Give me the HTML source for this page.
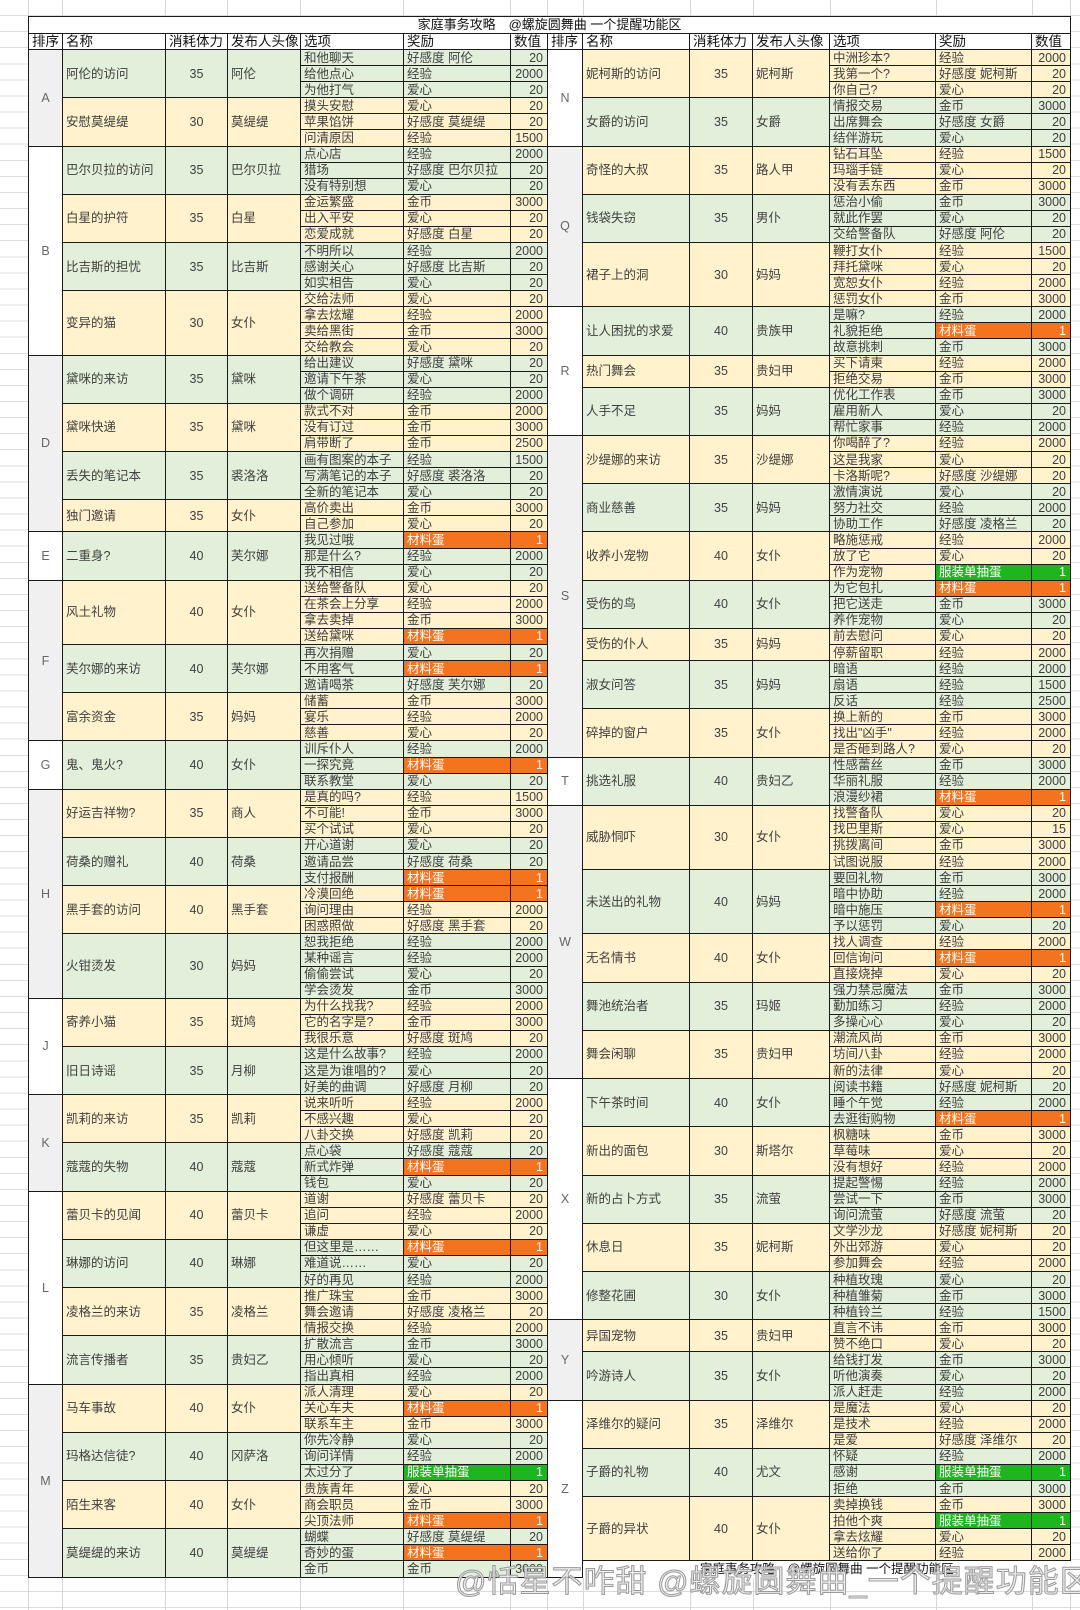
<!DOCTYPE html>
<html><head><meta charset="utf-8">
<style>
html,body{margin:0;padding:0;background:#fff;width:1080px;height:1610px;overflow:hidden;position:relative}
.bg{position:absolute;left:0;top:0;width:1080px;height:1610px;background:repeating-linear-gradient(to bottom,transparent 0,transparent 15.08px,#dcdcdc 15.08px,#dcdcdc 16.08px)}
.vl{position:absolute;top:0;height:1610px;width:1px;background:#d6d6d6}
table{position:absolute;left:28px;top:16px;border-collapse:collapse;table-layout:fixed;width:1042px;font-family:"Liberation Sans","Noto Sans CJK SC",sans-serif;font-size:12.5px;color:#404040;background:#fff}
td{border:1px solid #1a1a1a;padding:0 3px;line-height:14px;white-space:nowrap;overflow:hidden}
tr{height:16.08px}
.v{text-align:right;padding-right:4px}
.k{text-align:center}
.s{text-align:center;color:#666}
.sg{background:#f0f0f0}.sw{background:#fff}
.G{background:#e2efda}.C{background:#fff2cc}
.O{background:#f4731f;color:#fff}.E{background:#1fb51f;color:#fff}
.h td{color:#111;font-size:13.5px;background:#fff}
.ti td{text-align:center;color:#111;font-size:13px;border-bottom:1px solid #1a1a1a}
.ft{background:#fff;border:none;border-top:1px solid #1a1a1a;text-align:center;color:#111}
.wm{position:absolute;left:455px;top:1556px;font-family:"Liberation Sans","Noto Sans CJK SC",sans-serif;font-size:31px;color:rgba(235,235,235,0.85);-webkit-text-stroke:1px #9a9a9a;white-space:nowrap;letter-spacing:1px}
</style></head><body>
<div class="bg"></div>
<div class="vl" style="left:28px"></div><div class="vl" style="left:62px"></div><div class="vl" style="left:165px"></div><div class="vl" style="left:227px"></div><div class="vl" style="left:300px"></div><div class="vl" style="left:403px"></div><div class="vl" style="left:510px"></div><div class="vl" style="left:547px"></div><div class="vl" style="left:583px"></div><div class="vl" style="left:690px"></div><div class="vl" style="left:753px"></div><div class="vl" style="left:830px"></div><div class="vl" style="left:936px"></div><div class="vl" style="left:1032px"></div><div class="vl" style="left:1070px"></div>
<table>
<colgroup><col style="width:34px"><col style="width:103px"><col style="width:62px"><col style="width:73px"><col style="width:103px"><col style="width:107px"><col style="width:37px"><col style="width:35px"><col style="width:107px"><col style="width:63px"><col style="width:77px"><col style="width:106px"><col style="width:96px"><col style="width:39px"></colgroup>
<tr class="ti" style="height:17px"><td colspan="14">家庭事务攻略　@螺旋圆舞曲 一个提醒功能区</td></tr>
<tr class="h"><td>排序</td><td>名称</td><td>消耗体力</td><td>发布人头像</td><td>选项</td><td>奖励</td><td>数值</td><td>排序</td><td>名称</td><td>消耗体力</td><td>发布人头像</td><td>选项</td><td>奖励</td><td>数值</td></tr>

<tr><td class="s sg" rowspan="6">A<td class="G" rowspan="3">阿伦的访问<td class="k G" rowspan="3">35<td class="G" rowspan="3">阿伦<td class=G>和他聊天<td class=G>好感度 阿伦<td class="G v">20<td class="s sw" rowspan="6">N<td class="C" rowspan="3">妮柯斯的访问<td class="k C" rowspan="3">35<td class="C" rowspan="3">妮柯斯<td class=C>中洲珍本?<td class=C>经验<td class="C v">2000</tr>
<tr><td class=G>给他点心<td class=G>经验<td class="G v">2000<td class=C>我第一个?<td class=C>好感度 妮柯斯<td class="C v">20</tr>
<tr><td class=G>为他打气<td class=G>爱心<td class="G v">20<td class=C>你自己?<td class=C>爱心<td class="C v">20</tr>
<tr><td class="C" rowspan="3">安慰莫缇缇<td class="k C" rowspan="3">30<td class="C" rowspan="3">莫缇缇<td class=C>摸头安慰<td class=C>爱心<td class="C v">20<td class="G" rowspan="3">女爵的访问<td class="k G" rowspan="3">35<td class="G" rowspan="3">女爵<td class=G>情报交易<td class=G>金币<td class="G v">3000</tr>
<tr><td class=C>苹果馅饼<td class=C>好感度 莫缇缇<td class="C v">20<td class=G>出席舞会<td class=G>好感度 女爵<td class="G v">20</tr>
<tr><td class=C>问清原因<td class=C>经验<td class="C v">1500<td class=G>结伴游玩<td class=G>爱心<td class="G v">20</tr>

<tr><td class="s sw" rowspan="13">B<td class="G" rowspan="3">巴尔贝拉的访问<td class="k G" rowspan="3">35<td class="G" rowspan="3">巴尔贝拉<td class=G>点心店<td class=G>经验<td class="G v">2000<td class="s sg" rowspan="10">Q<td class="C" rowspan="3">奇怪的大叔<td class="k C" rowspan="3">35<td class="C" rowspan="3">路人甲<td class=C>钻石耳坠<td class=C>经验<td class="C v">1500</tr>
<tr><td class=G>猎场<td class=G>好感度 巴尔贝拉<td class="G v">20<td class=C>玛瑙手链<td class=C>爱心<td class="C v">20</tr>
<tr><td class=G>没有特别想<td class=G>爱心<td class="G v">20<td class=C>没有丢东西<td class=C>金币<td class="C v">3000</tr>
<tr><td class="C" rowspan="3">白星的护符<td class="k C" rowspan="3">35<td class="C" rowspan="3">白星<td class=C>金运繁盛<td class=C>金币<td class="C v">3000<td class="G" rowspan="3">钱袋失窃<td class="k G" rowspan="3">35<td class="G" rowspan="3">男仆<td class=G>惩治小偷<td class=G>金币<td class="G v">3000</tr>
<tr><td class=C>出入平安<td class=C>爱心<td class="C v">20<td class=G>就此作罢<td class=G>爱心<td class="G v">20</tr>
<tr><td class=C>恋爱成就<td class=C>好感度 白星<td class="C v">20<td class=G>交给警备队<td class=G>好感度 阿伦<td class="G v">20</tr>
<tr><td class="G" rowspan="3">比吉斯的担忧<td class="k G" rowspan="3">35<td class="G" rowspan="3">比吉斯<td class=G>不明所以<td class=G>经验<td class="G v">2000<td class="C" rowspan="4">裙子上的洞<td class="k C" rowspan="4">30<td class="C" rowspan="4">妈妈<td class=C>鞭打女仆<td class=C>经验<td class="C v">1500</tr>
<tr><td class=G>感谢关心<td class=G>好感度 比吉斯<td class="G v">20<td class=C>拜托黛咪<td class=C>爱心<td class="C v">20</tr>
<tr><td class=G>如实相告<td class=G>爱心<td class="G v">20<td class=C>宽恕女仆<td class=C>经验<td class="C v">2000</tr>
<tr><td class="C" rowspan="4">变异的猫<td class="k C" rowspan="4">30<td class="C" rowspan="4">女仆<td class=C>交给法师<td class=C>爱心<td class="C v">20<td class=C>惩罚女仆<td class=C>金币<td class="C v">3000</tr>
<tr><td class=C>拿去炫耀<td class=C>经验<td class="C v">2000<td class="s sw" rowspan="8">R<td class="G" rowspan="3">让人困扰的求爱<td class="k G" rowspan="3">40<td class="G" rowspan="3">贵族甲<td class=G>是嘛?<td class=G>经验<td class="G v">2000</tr>
<tr><td class=C>卖给黑街<td class=C>金币<td class="C v">3000<td class=G>礼貌拒绝<td class=O>材料蛋<td class="O v">1</tr>
<tr><td class=C>交给教会<td class=C>爱心<td class="C v">20<td class=G>故意挑刺<td class=G>金币<td class="G v">3000</tr>

<tr><td class="s sg" rowspan="11">D<td class="G" rowspan="3">黛咪的来访<td class="k G" rowspan="3">35<td class="G" rowspan="3">黛咪<td class=G>给出建议<td class=G>好感度 黛咪<td class="G v">20<td class="C" rowspan="2">热门舞会<td class="k C" rowspan="2">35<td class="C" rowspan="2">贵妇甲<td class=C>买下请柬<td class=C>经验<td class="C v">2000</tr>
<tr><td class=G>邀请下午茶<td class=G>爱心<td class="G v">20<td class=C>拒绝交易<td class=C>金币<td class="C v">3000</tr>
<tr><td class=G>做个调研<td class=G>经验<td class="G v">2000<td class="G" rowspan="3">人手不足<td class="k G" rowspan="3">35<td class="G" rowspan="3">妈妈<td class=G>优化工作表<td class=G>金币<td class="G v">3000</tr>
<tr><td class="C" rowspan="3">黛咪快递<td class="k C" rowspan="3">35<td class="C" rowspan="3">黛咪<td class=C>款式不对<td class=C>金币<td class="C v">2000<td class=G>雇用新人<td class=G>爱心<td class="G v">20</tr>
<tr><td class=C>没有订过<td class=C>金币<td class="C v">3000<td class=G>帮忙家事<td class=G>经验<td class="G v">2000</tr>
<tr><td class=C>肩带断了<td class=C>金币<td class="C v">2500<td class="s sg" rowspan="20">S<td class="C" rowspan="3">沙缇娜的来访<td class="k C" rowspan="3">35<td class="C" rowspan="3">沙缇娜<td class=C>你喝醉了?<td class=C>经验<td class="C v">2000</tr>
<tr><td class="G" rowspan="3">丢失的笔记本<td class="k G" rowspan="3">35<td class="G" rowspan="3">裘洛洛<td class=G>画有图案的本子<td class=G>经验<td class="G v">1500<td class=C>这是我家<td class=C>爱心<td class="C v">20</tr>
<tr><td class=G>写满笔记的本子<td class=G>好感度 裘洛洛<td class="G v">20<td class=C>卡洛斯呢?<td class=C>好感度 沙缇娜<td class="C v">20</tr>
<tr><td class=G>全新的笔记本<td class=G>爱心<td class="G v">20<td class="G" rowspan="3">商业慈善<td class="k G" rowspan="3">35<td class="G" rowspan="3">妈妈<td class=G>激情演说<td class=G>爱心<td class="G v">20</tr>
<tr><td class="C" rowspan="2">独门邀请<td class="k C" rowspan="2">35<td class="C" rowspan="2">女仆<td class=C>高价卖出<td class=C>金币<td class="C v">3000<td class=G>努力社交<td class=G>经验<td class="G v">2000</tr>
<tr><td class=C>自己参加<td class=C>爱心<td class="C v">20<td class=G>协助工作<td class=G>好感度 凌格兰<td class="G v">20</tr>

<tr><td class="s sw" rowspan="3">E<td class="G" rowspan="3">二重身?<td class="k G" rowspan="3">40<td class="G" rowspan="3">芙尔娜<td class=G>我见过哦<td class=O>材料蛋<td class="O v">1<td class="C" rowspan="3">收养小宠物<td class="k C" rowspan="3">40<td class="C" rowspan="3">女仆<td class=C>略施惩戒<td class=C>经验<td class="C v">2000</tr>
<tr><td class=G>那是什么?<td class=G>经验<td class="G v">2000<td class=C>放了它<td class=C>爱心<td class="C v">20</tr>
<tr><td class=G>我不相信<td class=G>爱心<td class="G v">20<td class=C>作为宠物<td class=E>服装单抽蛋<td class="E v">1</tr>

<tr><td class="s sg" rowspan="10">F<td class="C" rowspan="4">风土礼物<td class="k C" rowspan="4">40<td class="C" rowspan="4">女仆<td class=C>送给警备队<td class=C>爱心<td class="C v">20<td class="G" rowspan="3">受伤的鸟<td class="k G" rowspan="3">40<td class="G" rowspan="3">女仆<td class=G>为它包扎<td class=O>材料蛋<td class="O v">1</tr>
<tr><td class=C>在茶会上分享<td class=C>经验<td class="C v">2000<td class=G>把它送走<td class=G>金币<td class="G v">3000</tr>
<tr><td class=C>拿去卖掉<td class=C>金币<td class="C v">3000<td class=G>养作宠物<td class=G>爱心<td class="G v">20</tr>
<tr><td class=C>送给黛咪<td class=O>材料蛋<td class="O v">1<td class="C" rowspan="2">受伤的仆人<td class="k C" rowspan="2">35<td class="C" rowspan="2">妈妈<td class=C>前去慰问<td class=C>爱心<td class="C v">20</tr>
<tr><td class="G" rowspan="3">芙尔娜的来访<td class="k G" rowspan="3">40<td class="G" rowspan="3">芙尔娜<td class=G>再次捐赠<td class=G>爱心<td class="G v">20<td class=C>停薪留职<td class=C>经验<td class="C v">2000</tr>
<tr><td class=G>不用客气<td class=O>材料蛋<td class="O v">1<td class="G" rowspan="3">淑女问答<td class="k G" rowspan="3">35<td class="G" rowspan="3">妈妈<td class=G>暗语<td class=G>经验<td class="G v">2000</tr>
<tr><td class=G>邀请喝茶<td class=G>好感度 芙尔娜<td class="G v">20<td class=G>扇语<td class=G>经验<td class="G v">1500</tr>
<tr><td class="C" rowspan="3">富余资金<td class="k C" rowspan="3">35<td class="C" rowspan="3">妈妈<td class=C>储蓄<td class=C>金币<td class="C v">3000<td class=G>反话<td class=G>经验<td class="G v">2500</tr>
<tr><td class=C>宴乐<td class=C>经验<td class="C v">2000<td class="C" rowspan="3">碎掉的窗户<td class="k C" rowspan="3">35<td class="C" rowspan="3">女仆<td class=C>换上新的<td class=C>金币<td class="C v">3000</tr>
<tr><td class=C>慈善<td class=C>爱心<td class="C v">20<td class=C>找出"凶手"<td class=C>经验<td class="C v">2000</tr>

<tr><td class="s sw" rowspan="3">G<td class="G" rowspan="3">鬼、鬼火?<td class="k G" rowspan="3">40<td class="G" rowspan="3">女仆<td class=G>训斥仆人<td class=G>经验<td class="G v">2000<td class=C>是否砸到路人?<td class=C>爱心<td class="C v">20</tr>
<tr><td class=G>一探究竟<td class=O>材料蛋<td class="O v">1<td class="s sw" rowspan="3">T<td class="G" rowspan="3">挑选礼服<td class="k G" rowspan="3">40<td class="G" rowspan="3">贵妇乙<td class=G>性感蕾丝<td class=G>金币<td class="G v">3000</tr>
<tr><td class=G>联系教堂<td class=G>爱心<td class="G v">20<td class=G>华丽礼服<td class=G>经验<td class="G v">2000</tr>

<tr><td class="s sg" rowspan="13">H<td class="C" rowspan="3">好运吉祥物?<td class="k C" rowspan="3">35<td class="C" rowspan="3">商人<td class=C>是真的吗?<td class=C>经验<td class="C v">1500<td class=G>浪漫纱裙<td class=O>材料蛋<td class="O v">1</tr>
<tr><td class=C>不可能!<td class=C>金币<td class="C v">3000<td class="s sg" rowspan="17">W<td class="C" rowspan="4">威胁恫吓<td class="k C" rowspan="4">30<td class="C" rowspan="4">女仆<td class=C>找警备队<td class=C>爱心<td class="C v">20</tr>
<tr><td class=C>买个试试<td class=C>爱心<td class="C v">20<td class=C>找巴里斯<td class=C>爱心<td class="C v">15</tr>
<tr><td class="G" rowspan="3">荷桑的赠礼<td class="k G" rowspan="3">40<td class="G" rowspan="3">荷桑<td class=G>开心道谢<td class=G>爱心<td class="G v">20<td class=C>挑拨离间<td class=C>金币<td class="C v">3000</tr>
<tr><td class=G>邀请品尝<td class=G>好感度 荷桑<td class="G v">20<td class=C>试图说服<td class=C>经验<td class="C v">2000</tr>
<tr><td class=G>支付报酬<td class=O>材料蛋<td class="O v">1<td class="G" rowspan="4">未送出的礼物<td class="k G" rowspan="4">40<td class="G" rowspan="4">妈妈<td class=G>要回礼物<td class=G>金币<td class="G v">3000</tr>
<tr><td class="C" rowspan="3">黑手套的访问<td class="k C" rowspan="3">40<td class="C" rowspan="3">黑手套<td class=C>冷漠回绝<td class=O>材料蛋<td class="O v">1<td class=G>暗中协助<td class=G>经验<td class="G v">2000</tr>
<tr><td class=C>询问理由<td class=C>经验<td class="C v">2000<td class=G>暗中施压<td class=O>材料蛋<td class="O v">1</tr>
<tr><td class=C>困惑照做<td class=C>好感度 黑手套<td class="C v">20<td class=G>予以惩罚<td class=G>爱心<td class="G v">20</tr>
<tr><td class="G" rowspan="4">火钳烫发<td class="k G" rowspan="4">30<td class="G" rowspan="4">妈妈<td class=G>恕我拒绝<td class=G>经验<td class="G v">2000<td class="C" rowspan="3">无名情书<td class="k C" rowspan="3">40<td class="C" rowspan="3">女仆<td class=C>找人调查<td class=C>经验<td class="C v">2000</tr>
<tr><td class=G>某种谣言<td class=G>经验<td class="G v">2000<td class=C>回信询问<td class=O>材料蛋<td class="O v">1</tr>
<tr><td class=G>偷偷尝试<td class=G>爱心<td class="G v">20<td class=C>直接烧掉<td class=C>爱心<td class="C v">20</tr>
<tr><td class=G>学会烫发<td class=G>金币<td class="G v">3000<td class="G" rowspan="3">舞池统治者<td class="k G" rowspan="3">35<td class="G" rowspan="3">玛姬<td class=G>强力禁忌魔法<td class=G>金币<td class="G v">3000</tr>

<tr><td class="s sw" rowspan="6">J<td class="C" rowspan="3">寄养小猫<td class="k C" rowspan="3">35<td class="C" rowspan="3">斑鸠<td class=C>为什么找我?<td class=C>经验<td class="C v">2000<td class=G>勤加练习<td class=G>经验<td class="G v">2000</tr>
<tr><td class=C>它的名字是?<td class=C>金币<td class="C v">3000<td class=G>多操心心<td class=G>爱心<td class="G v">20</tr>
<tr><td class=C>我很乐意<td class=C>好感度 斑鸠<td class="C v">20<td class="C" rowspan="3">舞会闲聊<td class="k C" rowspan="3">35<td class="C" rowspan="3">贵妇甲<td class=C>潮流风尚<td class=C>金币<td class="C v">3000</tr>
<tr><td class="G" rowspan="3">旧日诗谣<td class="k G" rowspan="3">35<td class="G" rowspan="3">月柳<td class=G>这是什么故事?<td class=G>经验<td class="G v">2000<td class=C>坊间八卦<td class=C>经验<td class="C v">2000</tr>
<tr><td class=G>这是为谁唱的?<td class=G>爱心<td class="G v">20<td class=C>新的法律<td class=C>爱心<td class="C v">20</tr>
<tr><td class=G>好美的曲调<td class=G>好感度 月柳<td class="G v">20<td class="s sw" rowspan="15">X<td class="G" rowspan="3">下午茶时间<td class="k G" rowspan="3">40<td class="G" rowspan="3">女仆<td class=G>阅读书籍<td class=G>好感度 妮柯斯<td class="G v">20</tr>

<tr><td class="s sg" rowspan="6">K<td class="C" rowspan="3">凯莉的来访<td class="k C" rowspan="3">35<td class="C" rowspan="3">凯莉<td class=C>说来听听<td class=C>经验<td class="C v">2000<td class=G>睡个午觉<td class=G>经验<td class="G v">2000</tr>
<tr><td class=C>不感兴趣<td class=C>爱心<td class="C v">20<td class=G>去逛街购物<td class=O>材料蛋<td class="O v">1</tr>
<tr><td class=C>八卦交换<td class=C>好感度 凯莉<td class="C v">20<td class="C" rowspan="3">新出的面包<td class="k C" rowspan="3">30<td class="C" rowspan="3">斯塔尔<td class=C>枫糖味<td class=C>金币<td class="C v">3000</tr>
<tr><td class="G" rowspan="3">蔻蔻的失物<td class="k G" rowspan="3">40<td class="G" rowspan="3">蔻蔻<td class=G>点心袋<td class=G>好感度 蔻蔻<td class="G v">20<td class=C>草莓味<td class=C>爱心<td class="C v">20</tr>
<tr><td class=G>新式炸弹<td class=O>材料蛋<td class="O v">1<td class=C>没有想好<td class=C>经验<td class="C v">2000</tr>
<tr><td class=G>钱包<td class=G>爱心<td class="G v">20<td class="G" rowspan="3">新的占卜方式<td class="k G" rowspan="3">35<td class="G" rowspan="3">流萤<td class=G>提起警惕<td class=G>经验<td class="G v">2000</tr>

<tr><td class="s sw" rowspan="12">L<td class="C" rowspan="3">蕾贝卡的见闻<td class="k C" rowspan="3">40<td class="C" rowspan="3">蕾贝卡<td class=C>道谢<td class=C>好感度 蕾贝卡<td class="C v">20<td class=G>尝试一下<td class=G>金币<td class="G v">3000</tr>
<tr><td class=C>追问<td class=C>经验<td class="C v">2000<td class=G>询问流萤<td class=G>好感度 流萤<td class="G v">20</tr>
<tr><td class=C>谦虚<td class=C>爱心<td class="C v">20<td class="C" rowspan="3">休息日<td class="k C" rowspan="3">35<td class="C" rowspan="3">妮柯斯<td class=C>文学沙龙<td class=C>好感度 妮柯斯<td class="C v">20</tr>
<tr><td class="G" rowspan="3">琳娜的访问<td class="k G" rowspan="3">40<td class="G" rowspan="3">琳娜<td class=G>但这里是……<td class=O>材料蛋<td class="O v">1<td class=C>外出郊游<td class=C>爱心<td class="C v">20</tr>
<tr><td class=G>难道说……<td class=G>爱心<td class="G v">20<td class=C>参加舞会<td class=C>经验<td class="C v">2000</tr>
<tr><td class=G>好的再见<td class=G>经验<td class="G v">2000<td class="G" rowspan="3">修整花圃<td class="k G" rowspan="3">30<td class="G" rowspan="3">女仆<td class=G>种植玫瑰<td class=G>爱心<td class="G v">20</tr>
<tr><td class="C" rowspan="3">凌格兰的来访<td class="k C" rowspan="3">35<td class="C" rowspan="3">凌格兰<td class=C>推广珠宝<td class=C>金币<td class="C v">3000<td class=G>种植雏菊<td class=G>金币<td class="G v">3000</tr>
<tr><td class=C>舞会邀请<td class=C>好感度 凌格兰<td class="C v">20<td class=G>种植铃兰<td class=G>经验<td class="G v">1500</tr>
<tr><td class=C>情报交换<td class=C>经验<td class="C v">2000<td class="s sg" rowspan="5">Y<td class="C" rowspan="2">异国宠物<td class="k C" rowspan="2">35<td class="C" rowspan="2">贵妇甲<td class=C>直言不讳<td class=C>金币<td class="C v">3000</tr>
<tr><td class="G" rowspan="3">流言传播者<td class="k G" rowspan="3">35<td class="G" rowspan="3">贵妇乙<td class=G>扩散流言<td class=G>金币<td class="G v">3000<td class=C>赞不绝口<td class=C>爱心<td class="C v">20</tr>
<tr><td class=G>用心倾听<td class=G>爱心<td class="G v">20<td class="G" rowspan="3">吟游诗人<td class="k G" rowspan="3">35<td class="G" rowspan="3">女仆<td class=G>给钱打发<td class=G>金币<td class="G v">3000</tr>
<tr><td class=G>指出真相<td class=G>经验<td class="G v">2000<td class=G>听他演奏<td class=G>爱心<td class="G v">20</tr>

<tr><td class="s sg" rowspan="12">M<td class="C" rowspan="3">马车事故<td class="k C" rowspan="3">40<td class="C" rowspan="3">女仆<td class=C>派人清理<td class=C>爱心<td class="C v">20<td class=G>派人赶走<td class=G>经验<td class="G v">2000</tr>
<tr><td class=C>关心车夫<td class=O>材料蛋<td class="O v">1<td class="s sw" rowspan="11">Z<td class="C" rowspan="3">泽维尔的疑问<td class="k C" rowspan="3">35<td class="C" rowspan="3">泽维尔<td class=C>是魔法<td class=C>爱心<td class="C v">20</tr>
<tr><td class=C>联系车主<td class=C>金币<td class="C v">3000<td class=C>是技术<td class=C>经验<td class="C v">2000</tr>
<tr><td class="G" rowspan="3">玛格达信徒?<td class="k G" rowspan="3">40<td class="G" rowspan="3">冈萨洛<td class=G>你先冷静<td class=G>爱心<td class="G v">20<td class=C>是爱<td class=C>好感度 泽维尔<td class="C v">20</tr>
<tr><td class=G>询问详情<td class=G>经验<td class="G v">2000<td class="G" rowspan="3">子爵的礼物<td class="k G" rowspan="3">40<td class="G" rowspan="3">尤文<td class=G>怀疑<td class=G>经验<td class="G v">2000</tr>
<tr><td class=G>太过分了<td class=E>服装单抽蛋<td class="E v">1<td class=G>感谢<td class=E>服装单抽蛋<td class="E v">1</tr>
<tr><td class="C" rowspan="3">陌生来客<td class="k C" rowspan="3">40<td class="C" rowspan="3">女仆<td class=C>贵族青年<td class=C>爱心<td class="C v">20<td class=G>拒绝<td class=G>金币<td class="G v">3000</tr>
<tr><td class=C>商会职员<td class=C>金币<td class="C v">3000<td class="C" rowspan="4">子爵的异状<td class="k C" rowspan="4">40<td class="C" rowspan="4">女仆<td class=C>卖掉换钱<td class=C>金币<td class="C v">3000</tr>
<tr><td class=C>尖顶法师<td class=O>材料蛋<td class="O v">1<td class=C>拍他个爽<td class=E>服装单抽蛋<td class="E v">1</tr>
<tr><td class="G" rowspan="3">莫缇缇的来访<td class="k G" rowspan="3">40<td class="G" rowspan="3">莫缇缇<td class=G>蝴蝶<td class=G>好感度 莫缇缇<td class="G v">20<td class=C>拿去炫耀<td class=C>爱心<td class="C v">20</tr>
<tr><td class=G>奇妙的蛋<td class=O>材料蛋<td class="O v">1<td class=C>送给你了<td class=C>经验<td class="C v">2000</tr>
<tr><td class=G>金币<td class=G>金币<td class="G v">3000<td class="ft" colspan="6">家庭事务攻略　@螺旋圆舞曲 一个提醒功能区</td></tr>
</table>
<div class="wm">@恬星不咋甜 @螺旋圆舞曲_一个提醒功能区</div>
</body></html>
